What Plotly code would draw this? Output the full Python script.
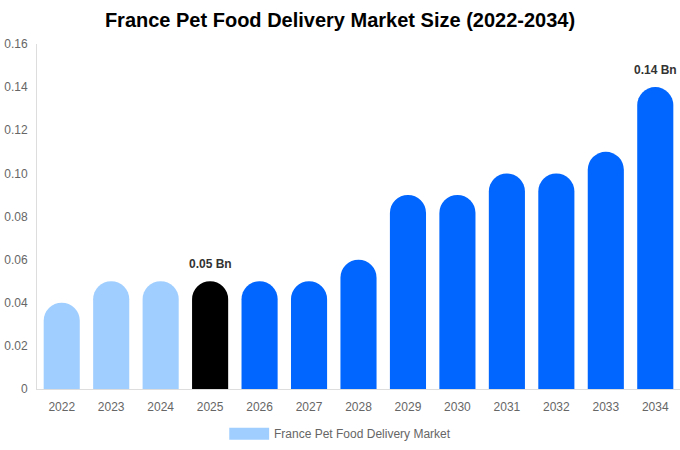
import plotly.graph_objects as go

years = ["2022", "2023", "2024", "2025", "2026", "2027", "2028",
         "2029", "2030", "2031", "2032", "2033", "2034"]
market_size = [0.04, 0.05, 0.05, 0.05, 0.05, 0.05, 0.06,
               0.09, 0.09, 0.10, 0.10, 0.11, 0.14]
bar_colors = ["#a0cfff"] * 3 + ["#000000"] + ["#0066ff"] * 9
labels = {"2025": "0.05 Bn", "2034": "0.14 Bn"}
series_name = "France Pet Food Delivery Market"
y_ticks = [0, 0.02, 0.04, 0.06, 0.08, 0.10, 0.12, 0.14, 0.16]
y_ticktext = ["0", "0.02", "0.04", "0.06", "0.08", "0.10", "0.12", "0.14", "0.16"]

fig = go.Figure()
fig.add_bar(x=years, y=market_size, marker_color=bar_colors,
            marker_line_width=0, name=series_name, showlegend=False,
            hoverinfo="x+y")

for yr, txt in labels.items():
    i = years.index(yr)
    fig.add_annotation(x=i, y=market_size[i], text="<b>" + txt + "</b>",
                       showarrow=False, yshift=17, yanchor="middle",
                       font=dict(size=12, color="#333333"))

# legend drawn by hand so the swatch is the wide rectangle of the original
fig.add_shape(type="rect", xref="paper", yref="paper",
              x0=0.299, x1=0.361, y0=-0.112, y1=-0.147,
              fillcolor="#a0cfff", line_width=0)
fig.add_annotation(xref="paper", yref="paper", x=0.366, y=-0.129,
                   text=series_name, showarrow=False, xanchor="left", yanchor="middle",
                   font=dict(size=12, color="#666666"))

fig.update_layout(
    width=680, height=450,
    margin=dict(l=37, r=0, t=44, b=61),
    paper_bgcolor="white", plot_bgcolor="white",
    font=dict(family="Liberation Sans", size=12, color="#666666"),
    title=dict(text="<b>France Pet Food Delivery Market Size (2022-2034)</b>",
               x=0.5, xanchor="center", y=0.955, yanchor="middle",
               font=dict(size=20, color="#000000")),
    bargap=0.27,
    barcornerradius="50%",
    xaxis=dict(type="category", range=[-0.5, len(years) - 0.5],
               showline=True, linecolor="#dddddd", linewidth=1,
               ticks="", showgrid=False, automargin=False, ticklabelstandoff=7,
               tickfont=dict(size=12, color="#666666")),
    yaxis=dict(range=[0, 0.16], tickvals=y_ticks, ticktext=y_ticktext,
               showline=True, linecolor="#dddddd", linewidth=1,
               showgrid=False, zeroline=False, ticks="", automargin=False,
               ticklabelstandoff=6,
               tickfont=dict(size=12, color="#666666")),
)

fig.write_html("out.html", config={"displayModeBar": False},
               post_script="document.body.style.margin='0';")
